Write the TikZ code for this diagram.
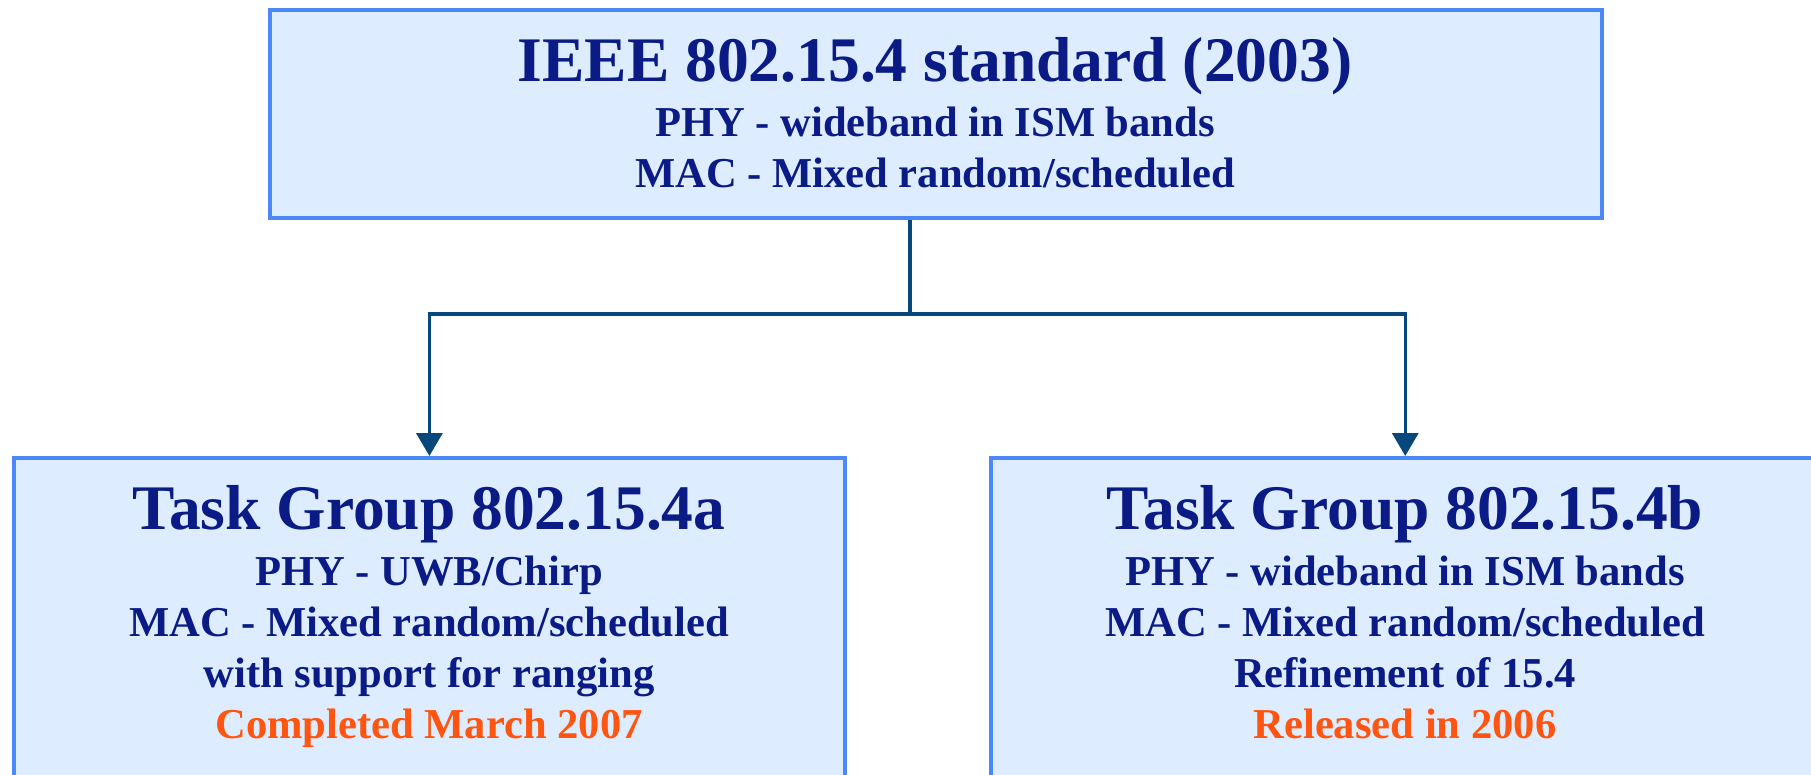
\documentclass[tikz,border=0pt]{standalone}
\usepackage{fontspec}
\setmainfont{Liberation Serif}
\usetikzlibrary{arrows.meta}
\definecolor{navy}{RGB}{10,27,133}
\definecolor{dateorange}{RGB}{255,85,16}
\definecolor{boxfill}{RGB}{221,236,254}
\definecolor{boxline}{RGB}{77,136,250}
\definecolor{connline}{RGB}{7,72,124}
\tikzset{
  groupbox/.style={draw=boxline, line width=2pt, fill=boxfill, inner sep=0pt},
  headtext/.style={anchor=base, text=navy, inner sep=0pt,
    font=\bfseries\fontsize{31.75pt}{36pt}\selectfont},
  subtext/.style={anchor=base, text=navy, inner sep=0pt,
    font=\bfseries\fontsize{21.3pt}{25pt}\selectfont},
  datetext/.style={subtext, text=dateorange},
  conn/.style={draw=connline, line width=1.75pt},
  tip/.style={-{Triangle[width=13pt,length=11.5pt]}}
}
\begin{document}
\begin{tikzpicture}[x=0.5pt,y=-0.5pt]
\useasboundingbox (0,0) rectangle (1811,775);
\clip (0,0) rectangle (1811,775);

% boxes
\node[groupbox, minimum width=666.15pt, minimum height=103.85pt] (std) at (935.85,114.15) {};
\node[groupbox, minimum width=415.6pt, minimum height=181pt] (tga) at (429.4,639) {};
\node[groupbox, minimum width=414.75pt, minimum height=181pt] (tgb) at (1405.25,639) {};

% standard
\node[headtext] (stdT) at (935,82) {IEEE 802.15.4 standard (2003)};
\node[subtext] (stdP) at (935,137) {PHY - wideband in ISM bands};
\node[subtext] (stdM) at (935,188) {MAC - Mixed random/scheduled};

% task group a
\node[headtext] (tgaT) at (429,529) {Task Group 802.15.4a};
\node[subtext] (tgaP) at (429,585) {PHY - UWB/Chirp};
\node[subtext] (tgaM) at (429,636) {MAC - Mixed random/scheduled};
\node[subtext] (tgaR) at (429,687) {with support for ranging};
\node[datetext] (tgaD) at (429,738) {Completed March 2007};

% task group b
\node[headtext] (tgbT) at (1405,529) {Task Group 802.15.4b};
\node[subtext] (tgbP) at (1405,585) {PHY - wideband in ISM bands};
\node[subtext] (tgbM) at (1405,636) {MAC - Mixed random/scheduled};
\node[subtext] (tgbR) at (1405,687) {Refinement of 15.4};
\node[datetext] (tgbD) at (1405,738) {Released in 2006};

% connectors
\coordinate (split) at (910,314);
\draw[conn] (std.south -| split) -- (split);
\draw[conn, tip] (split) -| (tga.north);
\draw[conn, tip] (split) -| (tgb.north);
\end{tikzpicture}
\end{document}
